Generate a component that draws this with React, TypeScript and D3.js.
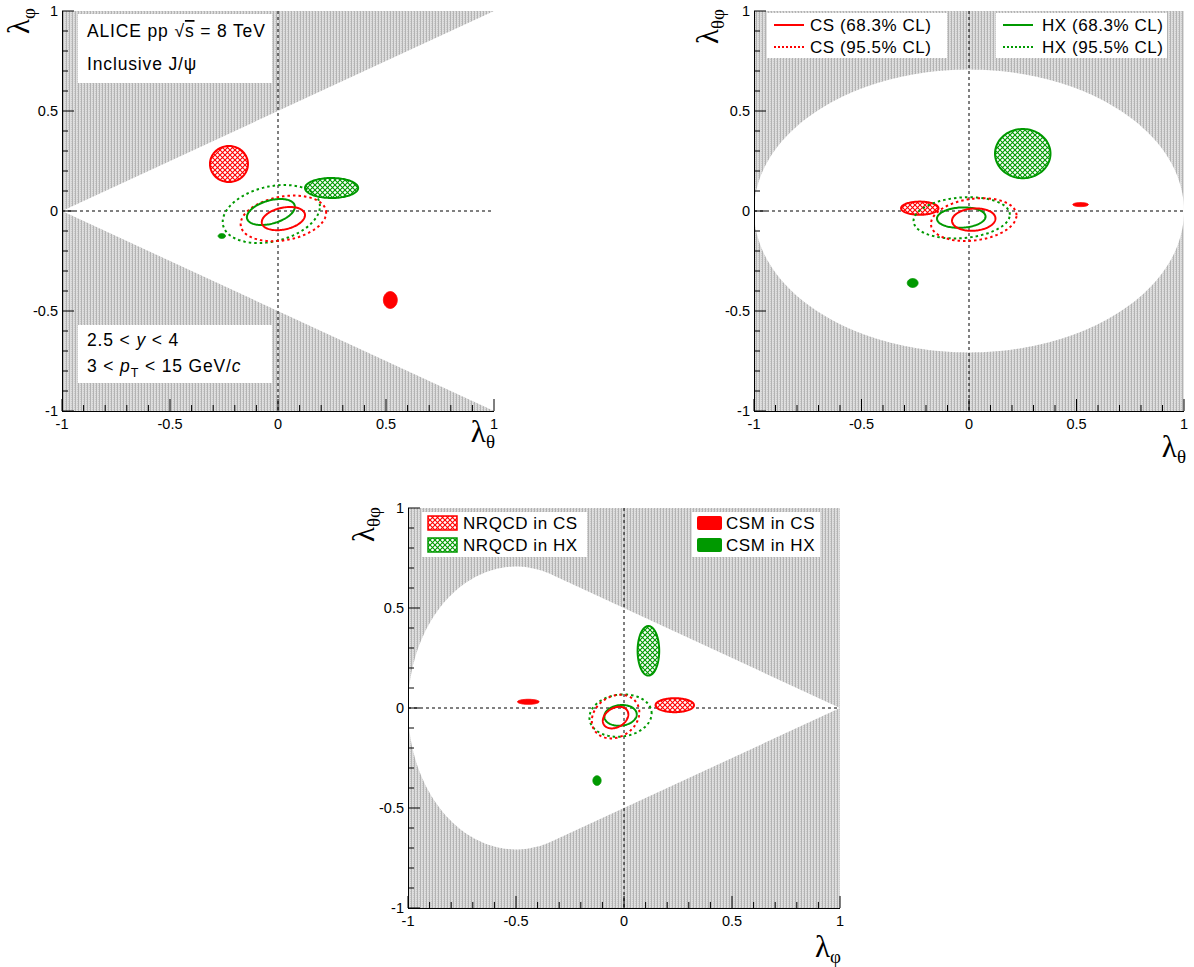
import React from 'react';
import * as d3 from 'd3';

const RED = '#ff0000';
const GREEN = '#009900';
const FONT = '"Liberation Sans", Arial, Helvetica, sans-serif';
const GREEK = '"Liberation Serif", "DejaVu Serif", serif';

type Ell = { cx: number; cy: number; sx: number; sy: number; rho: number };

// Per-panel values: [A: (λθ, λφ), B: (λθ, λθφ), C: (λφ, λθφ)]
const cs68: Ell[] = [
  { cx: 0.025, cy: -0.038, sx: 0.100, sy: 0.058, rho: 0.3 },
  { cx: 0.022, cy: -0.043, sx: 0.101, sy: 0.056, rho: 0.1 },
  { cx: -0.039, cy: -0.048, sx: 0.059, sy: 0.054, rho: 0.3 },
];
const hx68: Ell[] = [
  { cx: -0.033, cy: -0.005, sx: 0.111, sy: 0.065, rho: 0.4 },
  { cx: -0.036, cy: -0.033, sx: 0.113, sy: 0.051, rho: 0.1 },
  { cx: -0.016, cy: -0.037, sx: 0.075, sy: 0.052, rho: 0.1 },
];
const cs95: Ell[] = [
  { cx: 0.025, cy: -0.037, sx: 0.198, sy: 0.114, rho: 0.25 },
  { cx: 0.022, cy: -0.043, sx: 0.199, sy: 0.107, rho: 0.2 },
  { cx: -0.039, cy: -0.043, sx: 0.110, sy: 0.109, rho: 0.2 },
];
const hx95: Ell[] = [
  { cx: -0.031, cy: -0.015, sx: 0.225, sy: 0.145, rho: 0.27 },
  { cx: -0.034, cy: -0.034, sx: 0.224, sy: 0.103, rho: 0.15 },
  { cx: -0.016, cy: -0.038, sx: 0.144, sy: 0.106, rho: 0.1 },
];
const nrqcdCS: Ell[] = [
  { cx: -0.227, cy: 0.235, sx: 0.088, sy: 0.090, rho: 0 },
  { cx: -0.229, cy: 0.014, sx: 0.087, sy: 0.033, rho: 0 },
  { cx: 0.235, cy: 0.014, sx: 0.089, sy: 0.035, rho: 0 },
];
const nrqcdHX: Ell[] = [
  { cx: 0.248, cy: 0.115, sx: 0.123, sy: 0.050, rho: 0 },
  { cx: 0.250, cy: 0.287, sx: 0.129, sy: 0.123, rho: 0 },
  { cx: 0.113, cy: 0.286, sx: 0.050, sy: 0.124, rho: 0 },
];
const csmCS: Ell[] = [
  { cx: 0.520, cy: -0.445, sx: 0.032, sy: 0.042, rho: 0 },
  { cx: 0.519, cy: 0.032, sx: 0.036, sy: 0.010, rho: 0 },
  { cx: -0.443, cy: 0.031, sx: 0.050, sy: 0.0125, rho: 0 },
];
const csmHX: Ell[] = [
  { cx: -0.260, cy: -0.125, sx: 0.017, sy: 0.012, rho: 0 },
  { cx: -0.262, cy: -0.360, sx: 0.025, sy: 0.022, rho: 0 },
  { cx: -0.125, cy: -0.363, sx: 0.019, sy: 0.024, rho: 0 },
];

const majorTicks = [-1, -0.5, 0, 0.5, 1];
const tickLabels = ['-1', '-0.5', '0', '0.5', '1'];
const minorTicks = d3.range(-10, 11).map((i) => i / 10);

const xTitles = [['λ', 'θ'], ['λ', 'θ'], ['λ', 'φ']];
const yTitles = [['λ', 'φ'], ['λ', 'θφ'], ['λ', 'θφ']];

const legendA = ['CS (68.3% CL)', 'CS (95.5% CL)'];
const legendB = ['HX (68.3% CL)', 'HX (95.5% CL)'];
const legendC = ['NRQCD in CS', 'NRQCD in HX'];
const legendD = ['CSM in CS', 'CSM in HX'];

const layout = [
  { left: 62, right: 494, top: 11, bottom: 411, region: 'tri', xt: [495, 442], yt: [29, 8] },
  { left: 754, right: 1184, top: 11, bottom: 411, region: 'ell', xt: [1186, 457], yt: [718, 9] },
  { left: 408, right: 840, top: 508, bottom: 908, region: 'cone', xt: [841, 957], yt: [374, 507] },
];

function ellipsePath(e: Ell, x: d3.ScaleLinear<number, number>, y: d3.ScaleLinear<number, number>) {
  const ts = d3.range(0, 120).map((i) => (i / 120) * 2 * Math.PI);
  const s = Math.sqrt(1 - e.rho * e.rho);
  const pts: [number, number][] = ts.map((t) => [
    x(e.cx + e.sx * Math.cos(t)),
    y(e.cy + e.sy * (e.rho * Math.cos(t) + s * Math.sin(t))),
  ]);
  return d3.line().curve(d3.curveLinearClosed)(pts) || '';
}

function regionPath(kind: string, x: d3.ScaleLinear<number, number>, y: d3.ScaleLinear<number, number>) {
  let pts: [number, number][] = [];
  if (kind === 'tri') {
    pts = [[-1, 0], [1, 1], [1, -1]];
  } else if (kind === 'ell') {
    pts = d3.range(0, 200).map((i) => {
      const t = (i / 200) * 2 * Math.PI;
      return [Math.cos(t), Math.sin(t) / Math.SQRT2];
    });
  } else {
    const t0 = Math.acos(1 / 3);
    pts.push([1, 0]);
    const n = 120;
    for (let i = 0; i <= n; i++) {
      const t = t0 + (i / n) * (2 * Math.PI - 2 * t0);
      pts.push([-0.5 + 0.5 * Math.cos(t), Math.SQRT1_2 * Math.sin(t)]);
    }
  }
  return d3.line().curve(d3.curveLinearClosed)(pts.map((p) => [x(p[0]), y(p[1])] as [number, number])) || '';
}

function Panel({ idx }: { idx: number }) {
  const L = layout[idx];
  const x = d3.scaleLinear().domain([-1, 1]).range([L.left, L.right]);
  const y = d3.scaleLinear().domain([-1, 1]).range([L.bottom, L.top]);
  const clip = `clip${idx}`;
  const xt = xTitles[idx];
  const yt = yTitles[idx];
  return (
    <g>
      <defs>
        <clipPath id={clip}>
          <rect x={L.left} y={L.top} width={L.right - L.left} height={L.bottom - L.top} />
        </clipPath>
      </defs>
      <rect x={L.left} y={L.top} width={L.right - L.left} height={L.bottom - L.top} fill="url(#bgHatch)" />
      <path d={regionPath(L.region, x, y)} fill="#fff" stroke="none" />
      <g clipPath={`url(#${clip})`}>
        <line x1={x(0)} x2={x(0)} y1={L.top} y2={L.bottom} stroke="#000" strokeWidth={1} strokeDasharray="3,3" />
        <line x1={L.left} x2={L.right} y1={y(0)} y2={y(0)} stroke="#000" strokeWidth={1} strokeDasharray="3,3" />
        <path d={ellipsePath(nrqcdCS[idx], x, y)} fill="url(#hatchRed)" stroke={RED} strokeWidth={2} />
        <path d={ellipsePath(nrqcdHX[idx], x, y)} fill="url(#hatchGreen)" stroke={GREEN} strokeWidth={2} />
        <path d={ellipsePath(csmCS[idx], x, y)} fill={RED} stroke={RED} strokeWidth={1} />
        <path d={ellipsePath(csmHX[idx], x, y)} fill={GREEN} stroke={GREEN} strokeWidth={1} />
        <path d={ellipsePath(hx95[idx], x, y)} fill="none" stroke={GREEN} strokeWidth={2} strokeDasharray="2.5,3" />
        <path d={ellipsePath(cs95[idx], x, y)} fill="none" stroke={RED} strokeWidth={2} strokeDasharray="2.5,3" />
        <path d={ellipsePath(hx68[idx], x, y)} fill="none" stroke={GREEN} strokeWidth={2} />
        <path d={ellipsePath(cs68[idx], x, y)} fill="none" stroke={RED} strokeWidth={2} />
      </g>
      {/* axes */}
      <line x1={L.left} x2={L.right} y1={L.bottom + 0.5} y2={L.bottom + 0.5} stroke="#000" strokeWidth={1} />
      <line x1={L.left + 0.5} x2={L.left + 0.5} y1={L.top} y2={L.bottom} stroke="#000" strokeWidth={1} />
      {minorTicks.map((v) => {
        const major = majorTicks.includes(v);
        return (
          <g key={`t${v}`}>
            <line x1={x(v)} x2={x(v)} y1={L.bottom} y2={L.bottom - (major ? 12 : 6)} stroke="#000" strokeWidth={1} />
            <line x1={L.left} x2={L.left + (major ? 12 : 6)} y1={y(v)} y2={y(v)} stroke="#000" strokeWidth={1} />
          </g>
        );
      })}
      {majorTicks.map((v, i) => (
        <g key={`l${v}`} fontFamily={FONT} fontSize={14.5} fill="#000">
          <text x={x(v)} y={L.bottom + 18} textAnchor="middle">{tickLabels[i]}</text>
          <text x={L.left - 4} y={y(v)} dy="0.35em" textAnchor="end">{tickLabels[i]}</text>
        </g>
      ))}
      <text x={L.xt[0]} y={L.xt[1]} textAnchor="end" fontFamily={GREEK} fontSize={31}>
        {xt[0]}
        <tspan dy={6} fontSize={19}>{xt[1]}</tspan>
      </text>
      <text transform={`translate(${L.yt[0]},${L.yt[1]}) rotate(-90)`} textAnchor="end" fontFamily={GREEK} fontSize={31}>
        {yt[0]}
        <tspan dy={6} fontSize={19}>{yt[1]}</tspan>
      </text>
    </g>
  );
}

export default function App() {
  return (
    <svg width={1194} height={967} style={{ position: 'absolute', left: 0, top: 0, background: '#fff' }}>
      <defs>
        <pattern id="bgHatch" patternUnits="userSpaceOnUse" width={3} height={2}>
          <rect x={0} y={0} width={3} height={2} fill="#dedede" />
          <rect x={0} y={0} width={1} height={2} fill="#b3b3b3" />
          <rect x={2} y={1} width={1} height={1} fill="#cacaca" />
        </pattern>
        <pattern id="hatchRed" patternUnits="userSpaceOnUse" width={5} height={5}>
          <rect width={5} height={5} fill="#fff" />
          <path d="M0,0 L5,5 M5,0 L0,5" stroke={RED} strokeWidth={1.1} />
        </pattern>
        <pattern id="hatchGreen" patternUnits="userSpaceOnUse" width={5} height={5}>
          <rect width={5} height={5} fill="#fff" />
          <path d="M0,0 L5,5 M5,0 L0,5" stroke={GREEN} strokeWidth={1.1} />
        </pattern>
      </defs>
      <Panel idx={0} />
      <Panel idx={1} />
      <Panel idx={2} />

      {/* Panel A text boxes */}
      <g fontFamily={FONT} fontSize={17.5} letterSpacing={0.85} fill="#000">
        <rect x={78} y={14} width={194} height={69} fill="#fff" />
        <text x={87} y={37}>
          ALICE pp <tspan>√</tspan><tspan style={{ textDecoration: 'overline' }}>s</tspan> = 8 TeV
        </text>
        <text x={87} y={70}>Inclusive J/ψ</text>
        <rect x={78} y={325} width={194} height={58} fill="#fff" />
        <text x={87} y={346}>
          2.5 &lt; <tspan fontStyle="italic">y</tspan> &lt; 4
        </text>
        <text x={87} y={372}>
          3 &lt; <tspan fontStyle="italic">p</tspan>
          <tspan dy={5} fontSize={12.5}>T</tspan>
          <tspan dy={-5}> &lt; 15 GeV/</tspan>
          <tspan fontStyle="italic">c</tspan>
        </text>
      </g>

      {/* Panel B legends */}
      <g fontFamily={FONT} fontSize={17} letterSpacing={0.55} fill="#000">
        <rect x={767} y={13} width={180} height={45} fill="#fff" />
        <line x1={774} x2={804} y1={25} y2={25} stroke={RED} strokeWidth={2} />
        <line x1={774} x2={804} y1={47} y2={47} stroke={RED} strokeWidth={2} strokeDasharray="2,2" />
        <text x={810} y={31}>{legendA[0]}</text>
        <text x={810} y={53}>{legendA[1]}</text>
        <rect x={996} y={13} width={171} height={45} fill="#fff" />
        <line x1={1003} x2={1033} y1={25} y2={25} stroke={GREEN} strokeWidth={2} />
        <line x1={1003} x2={1033} y1={47} y2={47} stroke={GREEN} strokeWidth={2} strokeDasharray="2,2" />
        <text x={1042} y={31}>{legendB[0]}</text>
        <text x={1042} y={53}>{legendB[1]}</text>
      </g>

      {/* Panel C legends */}
      <g fontFamily={FONT} fontSize={17} letterSpacing={0.55} fill="#000">
        <rect x={422} y={512} width={165} height={45} fill="#fff" />
        <rect x={428} y={516} width={29} height={14} fill="url(#hatchRed)" stroke={RED} strokeWidth={1.5} />
        <rect x={428} y={538} width={29} height={14} fill="url(#hatchGreen)" stroke={GREEN} strokeWidth={1.5} />
        <text x={463} y={529}>{legendC[0]}</text>
        <text x={463} y={551}>{legendC[1]}</text>
        <rect x={692} y={512} width={128} height={45} fill="#fff" />
        <rect x={697} y={516} width={25} height={14} fill={RED} rx={2} />
        <rect x={697} y={538} width={25} height={14} fill={GREEN} rx={2} />
        <text x={726} y={529}>{legendD[0]}</text>
        <text x={726} y={551}>{legendD[1]}</text>
      </g>
    </svg>
  );
}
